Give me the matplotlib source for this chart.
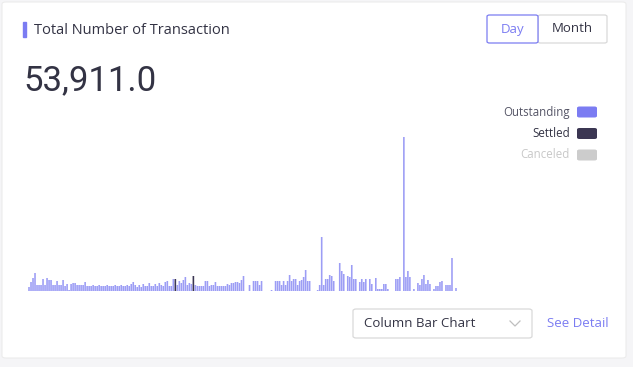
import matplotlib
matplotlib.use("Agg")
import matplotlib.pyplot as plt
from matplotlib.patches import FancyBboxPatch, Rectangle
import numpy as np

plt.rcParams['font.family'] = ['Open Sans', 'DejaVu Sans']

W, H = 633, 367

# daily transaction counts (Outstanding), one bar per day
outstanding = [
    120, 270, 390, 540, 180, 180, 180, 360, 180, 390,
    330, 330, 180, 180, 300, 180, 180, 330, 150, 210,
    30, 210, 240, 240, 180, 180, 180, 180, 270, 150,
    150, 150, 180, 150, 150, 180, 150, 150, 150, 180,
    150, 150, 150, 180, 150, 150, 180, 150, 150, 180,
    150, 210, 270, 180, 120, 180, 120, 210, 150, 150,
    240, 150, 150, 210, 150, 240, 180, 150, 270, 300,
    150, 150, 360, 0, 180, 300, 240, 330, 420, 180,
    240, 210, 0, 180, 150, 150, 150, 150, 300, 300,
    150, 180, 180, 270, 150, 150, 150, 150, 150, 210,
    180, 240, 240, 270, 270, 240, 330, 450, 0, 0,
    180, 0, 300, 300, 300, 180, 300, 0, 0, 0,
    0, 30, 0, 300, 300, 300, 180, 300, 180, 300,
    480, 300, 360, 360, 180, 300, 330, 420, 630, 300,
    300, 0, 0, 0, 30, 180, 1620, 180, 360, 360,
    480, 450, 300, 0, 0, 840, 600, 510, 0, 450,
    420, 780, 360, 360, 0, 270, 360, 270, 360, 0,
    360, 210, 0, 390, 60, 60, 60, 210, 210, 60,
    0, 0, 0, 360, 360, 420, 0, 4620, 420, 600,
    420, 0, 60, 0, 240, 180, 360, 480, 210, 330,
    210, 0, 60, 150, 150, 270, 300, 0, 180, 180,
    180, 990, 0, 90, 0,
]
settled_days = [73, 82]
settled_vals = [360, 450]

total_label = "53,911.0"
legend_labels = ["Outstanding", "Settled", "Canceled"]
legend_colors = ["#7b7cf2", "#3b3652", "#cccccc"]
legend_text_colors = ["#555566", "#333344", "#c8c8c8"]


def fx(x):
    return x / W


def fy(y):
    return 1 - y / H


fig = plt.figure(figsize=(W / 100, H / 100), dpi=100)
fig.patch.set_facecolor("#f5f5f7")

# card
card = FancyBboxPatch((fx(2), fy(358)), fx(624), 356 / H,
                      boxstyle="round,pad=0,rounding_size=0.006",
                      transform=fig.transFigure, facecolor="white",
                      edgecolor="#ececec", lw=0.8, zorder=-5)
fig.patches.append(card)

# title with accent bar
fig.patches.append(Rectangle((fx(23), fy(37)), 3 / W, 15 / H,
                             transform=fig.transFigure, color="#7b7cf2"))
fig.text(fx(34), fy(30), "Total Number of Transaction", fontsize=10.5,
         color="#333344", va="center", ha="left")

# Day / Month toggle
fig.patches.append(FancyBboxPatch((fx(538), fy(43)), 69 / W, 28 / H,
                                  boxstyle="round,pad=0,rounding_size=0.004",
                                  transform=fig.transFigure, facecolor="white",
                                  edgecolor="#d9d9d9", lw=0.9))
fig.patches.append(FancyBboxPatch((fx(487), fy(43)), 51 / W, 28 / H,
                                  boxstyle="round,pad=0,rounding_size=0.004",
                                  transform=fig.transFigure, facecolor="white",
                                  edgecolor="#7b7cf2", lw=0.9))
fig.text(fx(512.5), fy(29), "Day", fontsize=9.5, color="#7b7cf2",
         ha="center", va="center")
fig.text(fx(572.5), fy(29), "Month", fontsize=9.5, color="#333344",
         ha="center", va="center")

# big number
fig.text(fx(23), fy(81), total_label, fontsize=25, color="#333344",
         ha="left", va="center", family=["Roboto", "DejaVu Sans"])

# legend
for k, (lab, c, tc) in enumerate(zip(legend_labels, legend_colors, legend_text_colors)):
    yc = 112 + k * 21.5
    fig.patches.append(FancyBboxPatch((fx(577), fy(yc + 5.5)), 20 / W, 11 / H,
                                      boxstyle="round,pad=0,rounding_size=0.004",
                                      transform=fig.transFigure, facecolor=c,
                                      edgecolor="none"))
    fig.text(fx(570), fy(yc), lab, fontsize=8.3, color=tc, ha="right", va="center")

# bars
ax = fig.add_axes([fx(28), fy(291), 431 / W, 160 / H])
ax.set_zorder(5)
ax.patch.set_visible(False)
days = np.arange(len(outstanding))
ax.bar(days, outstanding, width=0.8, color="#9c9df5", linewidth=0, snap=False)
ax.bar(settled_days, settled_vals, width=0.8, color="#3b3652", linewidth=0, snap=False)
ax.set_xlim(-0.5, len(outstanding) - 0.5)
ax.set_ylim(0, 4800)
ax.axis("off")

# chart type dropdown
fig.patches.append(FancyBboxPatch((fx(353), fy(338)), 179 / W, 29 / H,
                                  boxstyle="round,pad=0,rounding_size=0.005",
                                  transform=fig.transFigure, facecolor="white",
                                  edgecolor="#d9d9d9", lw=0.9))
fig.text(fx(364), fy(323.5), "Column Bar Chart", fontsize=9.5, color="#333344",
         ha="left", va="center")
fig.lines.append(plt.Line2D([fx(510), fx(515), fx(520)], [fy(321), fy(326), fy(321)],
                            transform=fig.transFigure, color="#bfbfbf", lw=0.9))
fig.text(fx(547), fy(323.5), "See Detail", fontsize=9.5, color="#7b7cf2",
         ha="left", va="center")

fig.savefig("out.png", dpi=100, facecolor=fig.get_facecolor())
